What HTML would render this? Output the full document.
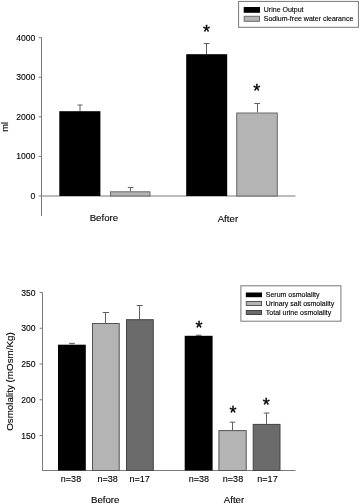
<!DOCTYPE html>
<html><head><meta charset="utf-8"><style>
html,body{margin:0;padding:0;background:#fff;width:360px;height:504px;overflow:hidden}
svg{display:block;will-change:transform}
text{font-family:"Liberation Sans", sans-serif;fill:#000;stroke:#000;stroke-width:0.12px}
</style></head><body>
<svg width="360" height="504" viewBox="0 0 360 504">
<line x1="41.5" y1="37.5" x2="41.5" y2="216" stroke="#7a7a7a" stroke-width="1"/>
<line x1="38.7" y1="37.7" x2="41.5" y2="37.7" stroke="#7a7a7a" stroke-width="1"/>
<text x="35.4" y="40.800000000000004" font-size="8.6" text-anchor="end">4000</text>
<line x1="38.7" y1="77.25" x2="41.5" y2="77.25" stroke="#7a7a7a" stroke-width="1"/>
<text x="35.4" y="80.35" font-size="8.6" text-anchor="end">3000</text>
<line x1="38.7" y1="116.8" x2="41.5" y2="116.8" stroke="#7a7a7a" stroke-width="1"/>
<text x="35.4" y="119.89999999999999" font-size="8.6" text-anchor="end">2000</text>
<line x1="38.7" y1="156.35" x2="41.5" y2="156.35" stroke="#7a7a7a" stroke-width="1"/>
<text x="35.4" y="159.45" font-size="8.6" text-anchor="end">1000</text>
<line x1="38.7" y1="195.9" x2="41.5" y2="195.9" stroke="#7a7a7a" stroke-width="1"/>
<text x="35.4" y="199.0" font-size="8.6" text-anchor="end">0</text>
<line x1="41.5" y1="196" x2="295.5" y2="196" stroke="#7a7a7a" stroke-width="1"/>
<line x1="80.0" y1="105" x2="80.0" y2="111.2" stroke="#606060" stroke-width="1"/>
<line x1="77.5" y1="105" x2="82.5" y2="105" stroke="#606060" stroke-width="1"/>
<rect x="59.3" y="111.2" width="41.10000000000001" height="84.8" fill="#000"/>
<line x1="130.5" y1="187.5" x2="130.5" y2="191.3" stroke="#606060" stroke-width="1"/>
<line x1="127.8" y1="187.5" x2="133.3" y2="187.5" stroke="#606060" stroke-width="1"/>
<rect x="110.5" y="191.8" width="39.5" height="4.199999999999989" fill="#b4b4b4" stroke="#6a6a6a" stroke-width="1"/>
<line x1="206.5" y1="43.5" x2="206.5" y2="54.2" stroke="#606060" stroke-width="1"/>
<line x1="203.8" y1="43.5" x2="209.5" y2="43.5" stroke="#606060" stroke-width="1"/>
<rect x="186.2" y="54.2" width="41.0" height="141.8" fill="#000"/>
<line x1="257.5" y1="103.5" x2="257.5" y2="112.5" stroke="#606060" stroke-width="1"/>
<line x1="254.3" y1="103.5" x2="260" y2="103.5" stroke="#606060" stroke-width="1"/>
<rect x="236.7" y="113.0" width="40.60000000000002" height="83.0" fill="#b4b4b4" stroke="#6a6a6a" stroke-width="1"/>
<text x="206.4" y="37.76" font-size="18" text-anchor="middle" style="stroke-width:0.4px">*</text>
<text x="256.7" y="96.96" font-size="18" text-anchor="middle" style="stroke-width:0.4px">*</text>
<text transform="translate(8.2,126.8) rotate(-90)" font-size="9.4" text-anchor="middle">ml</text>
<text x="103.9" y="221.4" font-size="9.7" text-anchor="middle">Before</text>
<text x="227.9" y="221.6" font-size="9.7" text-anchor="middle">After</text>
<rect x="238.6" y="1.4" width="119.8" height="25.9" fill="#fff" stroke="#777" stroke-width="1"/>
<rect x="243.7" y="7" width="16.3" height="5.8" fill="#000"/>
<rect x="244.2" y="16.3" width="15.3" height="5" fill="#b4b4b4" stroke="#6a6a6a" stroke-width="1"/>
<text x="263.8" y="12.1" font-size="7" text-anchor="start">Urine Output</text>
<text x="263.8" y="21.2" font-size="7" text-anchor="start">Sodium-free water clearance</text>
<line x1="42.5" y1="292.5" x2="42.5" y2="471" stroke="#7a7a7a" stroke-width="1"/>
<line x1="39.6" y1="292.5" x2="42.5" y2="292.5" stroke="#7a7a7a" stroke-width="1"/>
<text x="35.5" y="295.5" font-size="8.6" text-anchor="end">350</text>
<line x1="39.6" y1="328.25" x2="42.5" y2="328.25" stroke="#7a7a7a" stroke-width="1"/>
<text x="35.5" y="331.25" font-size="8.6" text-anchor="end">300</text>
<line x1="39.6" y1="364" x2="42.5" y2="364" stroke="#7a7a7a" stroke-width="1"/>
<text x="35.5" y="367.0" font-size="8.6" text-anchor="end">250</text>
<line x1="39.6" y1="399.75" x2="42.5" y2="399.75" stroke="#7a7a7a" stroke-width="1"/>
<text x="35.5" y="402.75" font-size="8.6" text-anchor="end">200</text>
<line x1="39.6" y1="435.5" x2="42.5" y2="435.5" stroke="#7a7a7a" stroke-width="1"/>
<text x="35.5" y="438.5" font-size="8.6" text-anchor="end">150</text>
<line x1="42.5" y1="470.5" x2="295.5" y2="470.5" stroke="#7a7a7a" stroke-width="1"/>
<line x1="72" y1="343.4" x2="72" y2="344.7" stroke="#606060" stroke-width="1"/>
<line x1="69.1" y1="343.4" x2="74.9" y2="343.4" stroke="#606060" stroke-width="1"/>
<rect x="58" y="344.7" width="27.799999999999997" height="125.80000000000001" fill="#000"/>
<line x1="105.5" y1="312.5" x2="105.5" y2="323" stroke="#606060" stroke-width="1"/>
<line x1="102.7" y1="312.5" x2="109.1" y2="312.5" stroke="#606060" stroke-width="1"/>
<rect x="92.5" y="323.5" width="26.700000000000003" height="147.0" fill="#b4b4b4" stroke="#555" stroke-width="1"/>
<line x1="139.5" y1="305.5" x2="139.5" y2="319.2" stroke="#606060" stroke-width="1"/>
<line x1="136.7" y1="305.5" x2="142.7" y2="305.5" stroke="#606060" stroke-width="1"/>
<rect x="126.5" y="319.7" width="26.80000000000001" height="150.8" fill="#6b6b6b" stroke="#444" stroke-width="1"/>
<line x1="198.7" y1="335.2" x2="198.7" y2="335.8" stroke="#606060" stroke-width="1"/>
<line x1="195.9" y1="335.2" x2="201.5" y2="335.2" stroke="#606060" stroke-width="1"/>
<rect x="184.7" y="335.8" width="27.900000000000006" height="134.7" fill="#000"/>
<line x1="232.5" y1="422.2" x2="232.5" y2="430.1" stroke="#606060" stroke-width="1"/>
<line x1="229.7" y1="422.2" x2="235.3" y2="422.2" stroke="#606060" stroke-width="1"/>
<rect x="218.9" y="430.6" width="27.299999999999983" height="39.89999999999998" fill="#b4b4b4" stroke="#555" stroke-width="1"/>
<line x1="266.5" y1="413" x2="266.5" y2="423.9" stroke="#606060" stroke-width="1"/>
<line x1="263.7" y1="413" x2="269.5" y2="413" stroke="#606060" stroke-width="1"/>
<rect x="253.2" y="424.4" width="26.80000000000001" height="46.10000000000002" fill="#6b6b6b" stroke="#444" stroke-width="1"/>
<text x="199.1" y="334.46" font-size="18" text-anchor="middle" style="stroke-width:0.4px">*</text>
<text x="233.1" y="418.56" font-size="18" text-anchor="middle" style="stroke-width:0.4px">*</text>
<text x="266.2" y="411.36" font-size="18" text-anchor="middle" style="stroke-width:0.4px">*</text>
<text transform="translate(13,381.6) rotate(-90)" font-size="9.8" text-anchor="middle">Osmolality (mOsm/Kg)</text>
<text x="71" y="482.3" font-size="9" text-anchor="middle">n=38</text>
<text x="107.7" y="482.3" font-size="9" text-anchor="middle">n=38</text>
<text x="139.6" y="482.3" font-size="9" text-anchor="middle">n=17</text>
<text x="198.8" y="482.3" font-size="9" text-anchor="middle">n=38</text>
<text x="233" y="482.3" font-size="9" text-anchor="middle">n=38</text>
<text x="267.5" y="482.3" font-size="9" text-anchor="middle">n=17</text>
<text x="105.2" y="502.6" font-size="9.7" text-anchor="middle">Before</text>
<text x="234" y="502.6" font-size="9.7" text-anchor="middle">After</text>
<rect x="240.9" y="285.8" width="100" height="35.4" fill="#fff" stroke="#777" stroke-width="1"/>
<rect x="245.8" y="292.5" width="16.2" height="4.7" fill="#000"/>
<rect x="246.3" y="301.5" width="15.2" height="4" fill="#b4b4b4" stroke="#555" stroke-width="1"/>
<rect x="246.3" y="310.5" width="15.2" height="4" fill="#6b6b6b" stroke="#444" stroke-width="1"/>
<text x="265.8" y="297.4" font-size="7" text-anchor="start">Serum osmolality</text>
<text x="265.8" y="306.0" font-size="7" text-anchor="start">Urinary salt osmolality</text>
<text x="265.8" y="314.9" font-size="7" text-anchor="start">Total urine osmolality</text>
</svg>
</body></html>
